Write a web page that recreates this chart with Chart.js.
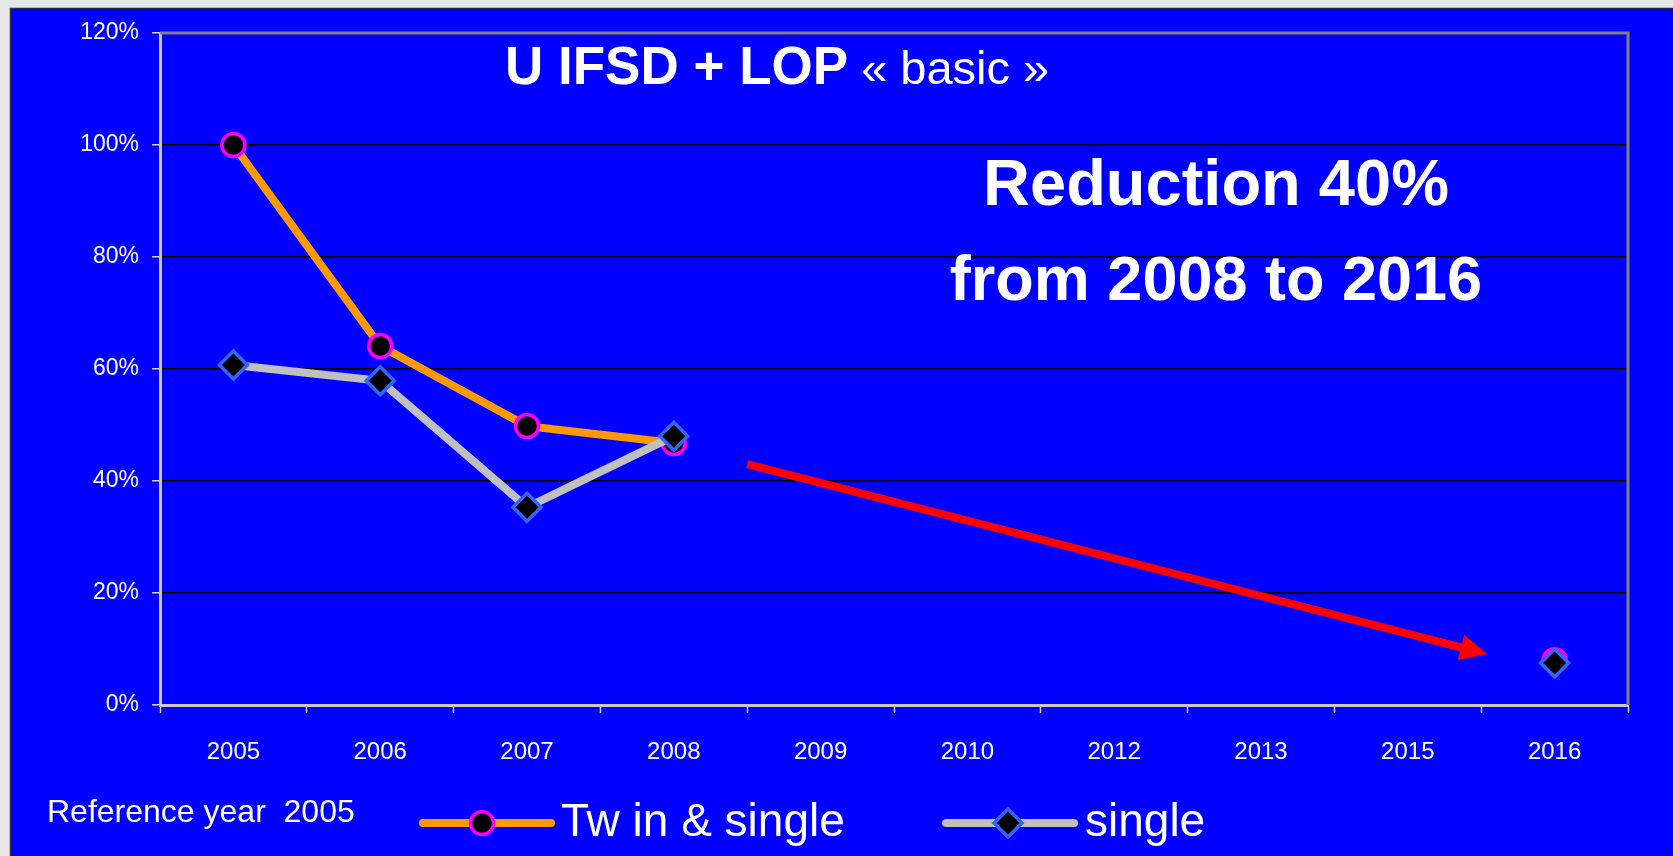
<!DOCTYPE html>
<html>
<head>
<meta charset="utf-8">
<script src="https://cdn.jsdelivr.net/npm/chart.js@4.4.1/dist/chart.umd.min.js"></script>
<style>
html, body { margin: 0; padding: 0; background: #e6e8e8; overflow: hidden; }
canvas { display: block; }
</style>
</head>
<body>
<canvas id="chart" width="1673" height="856"></canvas>
<script>
const years = ["2005", "2006", "2007", "2008", "2009", "2010", "2012", "2013", "2015", "2016"];
const twinSingle = [100, 64.1, 49.8, 46.8, null, null, null, null, null, 8.0];
const single = [60.7, 57.9, 35.3, 48.0, null, null, null, null, null, 7.5];
const yTicks = [0, 20, 40, 60, 80, 100, 120];
const seriesNames = ["Tw in & single", "single"];
// trend arrow, as [category index, percent]
const arrowFrom = [3.5, 43];
const arrowTo = [8.54, 9.1];

const FONT = "'Liberation Sans', Arial, sans-serif";

const slide = {
    id: "slide",
    beforeDraw(chart) {
        const { ctx, width, height } = chart;
        ctx.save();
        ctx.fillStyle = "#e6e8e8";
        ctx.fillRect(0, 0, width, height);
        ctx.fillStyle = "#0000ff";
        ctx.fillRect(10, 8, width - 10, height - 8);
        ctx.strokeStyle = "#2a2a40";
        ctx.lineWidth = 1.5;
        ctx.beginPath();
        ctx.moveTo(10.5, height);
        ctx.lineTo(10.5, 8.5);
        ctx.lineTo(width, 8.5);
        ctx.stroke();
        ctx.restore();
    },
    afterDatasetsDraw(chart) {
        const { ctx, chartArea } = chart;
        const xs = chart.scales.x, ys = chart.scales.y;
        ctx.save();
        // grey frame on top and right
        ctx.strokeStyle = "#808080";
        ctx.lineWidth = 3;
        ctx.beginPath();
        ctx.moveTo(chartArea.left, chartArea.top);
        ctx.lineTo(chartArea.right, chartArea.top);
        ctx.lineTo(chartArea.right, chartArea.bottom);
        ctx.stroke();

        // red arrow
        const x0 = xs.getPixelForValue(arrowFrom[0]), y0 = ys.getPixelForValue(arrowFrom[1]);
        const x1 = xs.getPixelForValue(arrowTo[0]), y1 = ys.getPixelForValue(arrowTo[1]);
        const ang = Math.atan2(y1 - y0, x1 - x0);
        const head = 27, half = 13;
        const bx = x1 - head * Math.cos(ang), by = y1 - head * Math.sin(ang);
        ctx.strokeStyle = "#ff0000";
        ctx.fillStyle = "#ff0000";
        ctx.lineWidth = 8;
        ctx.beginPath();
        ctx.moveTo(x0, y0);
        ctx.lineTo(bx + 2 * Math.cos(ang), by + 2 * Math.sin(ang));
        ctx.stroke();
        ctx.beginPath();
        ctx.moveTo(x1, y1);
        ctx.lineTo(bx + half * Math.sin(ang), by - half * Math.cos(ang));
        ctx.lineTo(bx - half * Math.sin(ang), by + half * Math.cos(ang));
        ctx.closePath();
        ctx.fill();
        ctx.restore();
    },
    afterDraw(chart) {
        const { ctx } = chart;
        ctx.save();
        ctx.fillStyle = "#ffffff";
        ctx.textBaseline = "alphabetic";

        // title
        ctx.textAlign = "left";
        ctx.font = "bold 53px " + FONT;
        ctx.fillText("U IFSD + LOP", 505, 84);
        const w = ctx.measureText("U IFSD + LOP").width;
        ctx.font = "47px " + FONT;
        ctx.fillText(" \u00AB basic \u00BB", 505 + w, 84);

        ctx.textAlign = "center";
        ctx.font = "bold 65px " + FONT;
        ctx.fillText("Reduction 40%", 1216, 205);
        ctx.font = "bold 63px " + FONT;
        ctx.fillText("from 2008 to 2016", 1216, 300);

        ctx.textAlign = "left";
        ctx.font = "32px " + FONT;
        ctx.fillText("Reference year  2005", 47, 822);

        // legend: line sample, marker, label
        const items = [
            { x0: 423, x1: 551, mx: 482, tx: 561 },
            { x0: 946, x1: 1074, mx: 1008, tx: 1085 }
        ];
        items.forEach((it, i) => {
            const ds = chart.data.datasets[i];
            const ly = 823;
            ctx.strokeStyle = ds.borderColor;
            ctx.lineWidth = 8;
            ctx.lineCap = "round";
            ctx.beginPath();
            ctx.moveTo(it.x0, ly);
            ctx.lineTo(it.x1, ly);
            ctx.stroke();
            ctx.lineCap = "butt";
            ctx.fillStyle = ds.pointBackgroundColor;
            ctx.strokeStyle = ds.pointBorderColor;
            ctx.lineWidth = ds.pointBorderWidth;
            Chart.helpers.drawPoint(ctx, {
                pointStyle: ds.pointStyle,
                radius: ds.pointRadius,
                borderWidth: ds.pointBorderWidth,
                rotation: 0
            }, it.mx, ly);
            ctx.fillStyle = "#ffffff";
            ctx.font = "46px " + FONT;
            ctx.fillText(ds.label, it.tx, 836);
        });
        ctx.restore();
    }
};

new Chart(document.getElementById("chart"), {
    type: "line",
    data: {
        labels: years,
        datasets: [
            {
                label: seriesNames[0],
                data: twinSingle,
                borderColor: "#ff9900",
                borderWidth: 8,
                tension: 0,
                spanGaps: false,
                pointStyle: "circle",
                pointRadius: 11.5,
                pointBorderWidth: 3.5,
                pointBorderColor: "#ff00ff",
                pointBackgroundColor: "#000000",
                order: 1
            },
            {
                label: seriesNames[1],
                data: single,
                borderColor: "#c0c0c0",
                borderWidth: 8,
                tension: 0,
                spanGaps: false,
                pointStyle: "rectRot",
                pointRadius: 14,
                pointBorderWidth: 3.5,
                pointBorderColor: "#3366ff",
                pointBackgroundColor: "#000000",
                order: 0
            }
        ]
    },
    options: {
        responsive: false,
        animation: false,
        events: [],
        layout: {
            padding: { top: 33, right: 45, bottom: 0, left: 0 }
        },
        plugins: {
            legend: { display: false },
            tooltip: { enabled: false }
        },
        scales: {
            x: {
                offset: true,
                afterFit: (scale) => { scale.height = 151; },
                grid: {
                    offset: true,
                    drawOnChartArea: false,
                    drawTicks: true,
                    tickLength: 8,
                    tickColor: "#d0d0e0",
                    tickWidth: 1.5
                },
                border: { color: "#c8c8c8", width: 3 },
                ticks: {
                    color: "#ffffff",
                    padding: 25,
                    maxRotation: 0,
                    autoSkip: false,
                    font: { family: FONT, size: 24 }
                }
            },
            y: {
                min: 0,
                max: 120,
                afterFit: (scale) => { scale.width = 160; },
                afterBuildTicks: (scale) => {
                    scale.ticks = yTicks.map(v => ({ value: v }));
                },
                grid: {
                    color: "#000000",
                    lineWidth: 1.5,
                    drawTicks: true,
                    tickLength: 8,
                    tickColor: "#d0d0e0",
                    tickWidth: 1.5
                },
                border: { color: "#c8c8c8", width: 3 },
                ticks: {
                    color: "#ffffff",
                    padding: 13,
                    font: { family: FONT, size: 23 },
                    callback: (value) => value + "%"
                }
            }
        }
    },
    plugins: [slide]
});
</script>
</body>
</html>
